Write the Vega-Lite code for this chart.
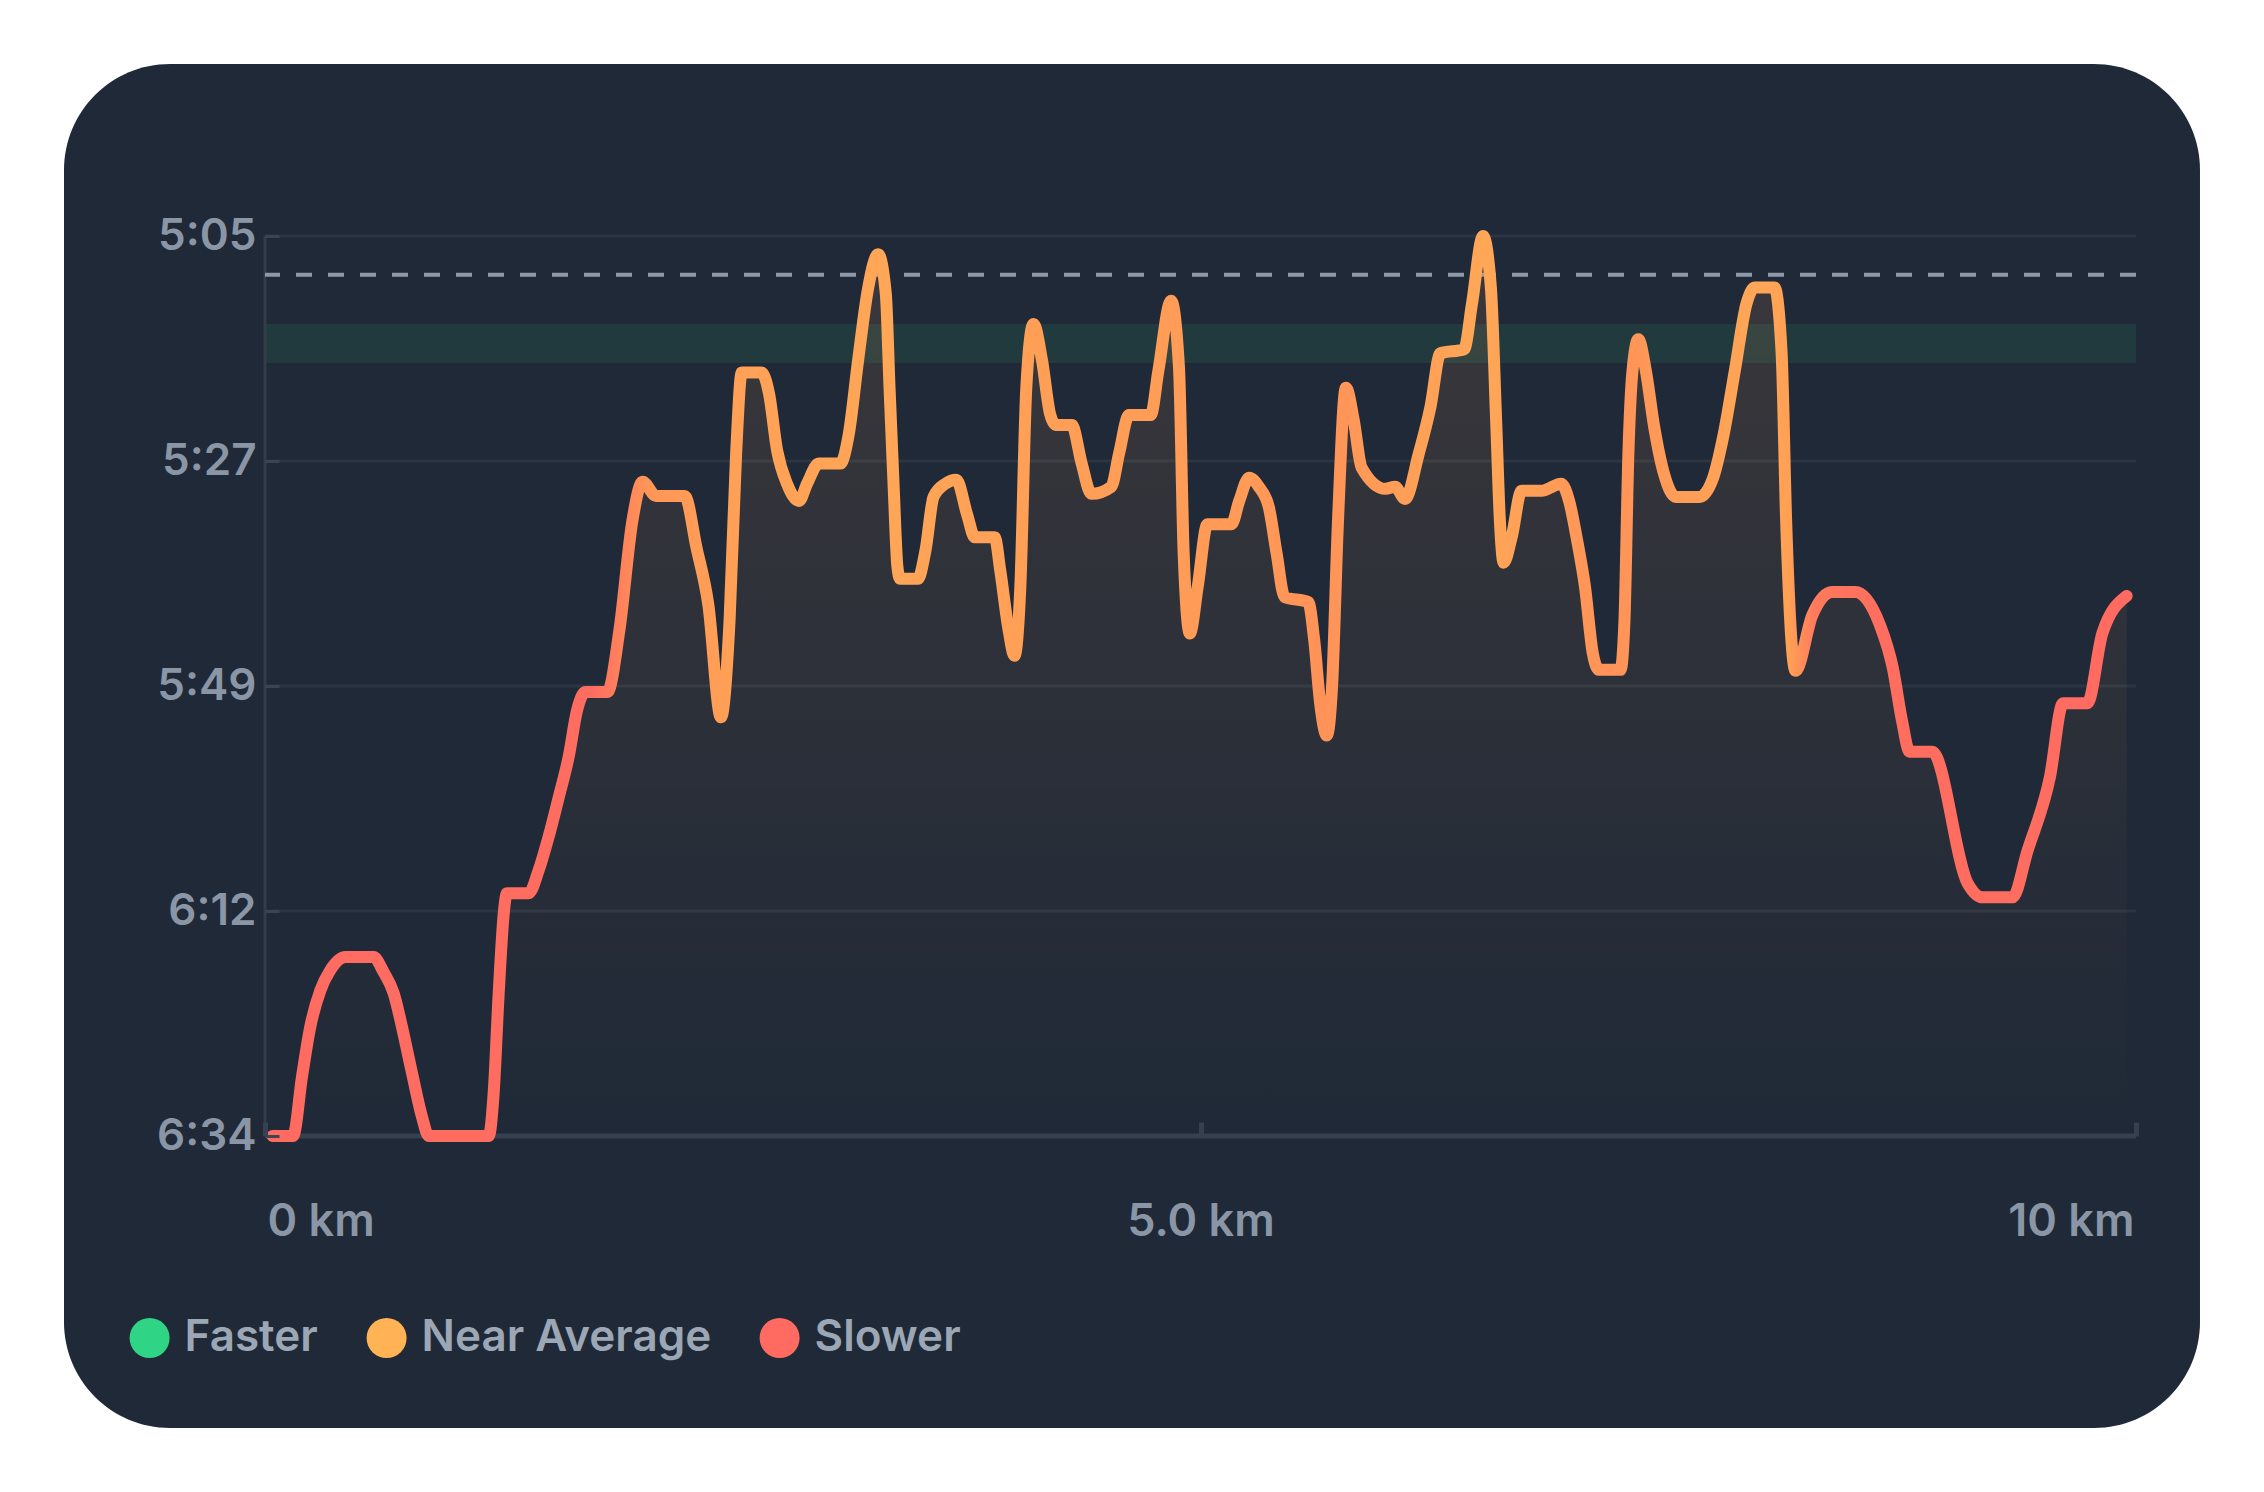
{
  "$schema": "https://vega.github.io/schema/vega-lite/v6.json",
  "width": 1871,
  "height": 900,
  "autosize": {"type": "none"},
  "padding": {"left": 265, "top": 236, "right": 128, "bottom": 356},
  "background": "#ffffff",
  "datasets": {
    "pace": [
      {"km": 0.04, "pace": 394}, {"km": 0.15, "pace": 394}, {"km": 0.198, "pace": 388.1},
      {"km": 0.242, "pace": 383.2}, {"km": 0.296, "pace": 379.6}, {"km": 0.349, "pace": 377.6},
      {"km": 0.43, "pace": 376.3}, {"km": 0.58, "pace": 376.3}, {"km": 0.634, "pace": 377.8},
      {"km": 0.688, "pace": 379.9}, {"km": 0.732, "pace": 383.2}, {"km": 0.786, "pace": 387.8},
      {"km": 0.839, "pace": 392.1}, {"km": 0.875, "pace": 394}, {"km": 1.196, "pace": 394},
      {"km": 1.222, "pace": 389.8}, {"km": 1.249, "pace": 379.9}, {"km": 1.276, "pace": 372},
      {"km": 1.293, "pace": 370}, {"km": 1.409, "pace": 370}, {"km": 1.463, "pace": 367.7},
      {"km": 1.516, "pace": 364.4}, {"km": 1.57, "pace": 360.5}, {"km": 1.623, "pace": 356.5},
      {"km": 1.668, "pace": 351.9}, {"km": 1.712, "pace": 350.1}, {"km": 1.83, "pace": 350.1},
      {"km": 1.894, "pace": 344.0}, {"km": 1.964, "pace": 333.1}, {"km": 2.018, "pace": 329.3},
      {"km": 2.09, "pace": 330.7}, {"km": 2.243, "pace": 330.7}, {"km": 2.306, "pace": 335.8},
      {"km": 2.369, "pace": 341.4}, {"km": 2.437, "pace": 352.6}, {"km": 2.483, "pace": 343},
      {"km": 2.518, "pace": 326.5}, {"km": 2.548, "pace": 318.5}, {"km": 2.654, "pace": 318.5},
      {"km": 2.694, "pace": 320.6}, {"km": 2.737, "pace": 326.2}, {"km": 2.79, "pace": 329.5},
      {"km": 2.854, "pace": 331.2}, {"km": 2.897, "pace": 329.5}, {"km": 2.96, "pace": 327.5},
      {"km": 3.075, "pace": 327.5}, {"km": 3.12, "pace": 324.6}, {"km": 3.17, "pace": 317.3},
      {"km": 3.224, "pace": 310.1}, {"km": 3.277, "pace": 306.8}, {"km": 3.318, "pace": 310.7},
      {"km": 3.338, "pace": 320}, {"km": 3.36, "pace": 329.8}, {"km": 3.38, "pace": 337.7},
      {"km": 3.394, "pace": 338.9}, {"km": 3.489, "pace": 338.9}, {"km": 3.53, "pace": 336.1},
      {"km": 3.573, "pace": 330.8}, {"km": 3.636, "pace": 329.5}, {"km": 3.695, "pace": 329.1},
      {"km": 3.752, "pace": 332.5}, {"km": 3.794, "pace": 334.8}, {"km": 3.9, "pace": 334.8},
      {"km": 3.93, "pace": 338.1}, {"km": 3.972, "pace": 343.7}, {"km": 4.006, "pace": 346.5},
      {"km": 4.037, "pace": 339.7}, {"km": 4.069, "pace": 320}, {"km": 4.107, "pace": 313.7},
      {"km": 4.153, "pace": 317.3}, {"km": 4.196, "pace": 322.6}, {"km": 4.228, "pace": 323.7},
      {"km": 4.312, "pace": 323.7}, {"km": 4.365, "pace": 327.5}, {"km": 4.417, "pace": 330.5},
      {"km": 4.523, "pace": 329.8}, {"km": 4.565, "pace": 326.5}, {"km": 4.618, "pace": 322.7},
      {"km": 4.734, "pace": 322.7}, {"km": 4.775, "pace": 318.3}, {"km": 4.843, "pace": 311.4},
      {"km": 4.885, "pace": 318}, {"km": 4.91, "pace": 336.4}, {"km": 4.943, "pace": 344.3},
      {"km": 4.985, "pace": 339.7}, {"km": 5.037, "pace": 333.5}, {"km": 5.165, "pace": 333.5},
      {"km": 5.207, "pace": 331.2}, {"km": 5.26, "pace": 328.9}, {"km": 5.312, "pace": 329.8},
      {"km": 5.365, "pace": 331.8}, {"km": 5.407, "pace": 336.4}, {"km": 5.449, "pace": 340.7},
      {"km": 5.576, "pace": 341.2}, {"km": 5.608, "pace": 345}, {"km": 5.64, "pace": 351.3},
      {"km": 5.675, "pace": 354.4}, {"km": 5.703, "pace": 349.6}, {"km": 5.735, "pace": 333.1},
      {"km": 5.777, "pace": 320}, {"km": 5.819, "pace": 323.2}, {"km": 5.861, "pace": 327.9},
      {"km": 5.988, "pace": 330}, {"km": 6.04, "pace": 329.8}, {"km": 6.093, "pace": 331},
      {"km": 6.167, "pace": 326.5}, {"km": 6.229, "pace": 321.9}, {"km": 6.282, "pace": 316.6},
      {"km": 6.409, "pace": 316.2}, {"km": 6.451, "pace": 311.7}, {"km": 6.51, "pace": 305},
      {"km": 6.552, "pace": 310.1}, {"km": 6.58, "pace": 323.2}, {"km": 6.6, "pace": 333.1},
      {"km": 6.62, "pace": 337.3}, {"km": 6.663, "pace": 334.8}, {"km": 6.716, "pace": 330.2},
      {"km": 6.822, "pace": 330.2}, {"km": 6.928, "pace": 329.5}, {"km": 6.97, "pace": 331.2},
      {"km": 7.013, "pace": 335.1}, {"km": 7.055, "pace": 339.7}, {"km": 7.097, "pace": 346.3},
      {"km": 7.13, "pace": 347.9}, {"km": 7.245, "pace": 347.9}, {"km": 7.266, "pace": 343},
      {"km": 7.287, "pace": 326.5}, {"km": 7.309, "pace": 318.3}, {"km": 7.34, "pace": 315.2},
      {"km": 7.38, "pace": 318.3}, {"km": 7.425, "pace": 323.9}, {"km": 7.477, "pace": 328.5},
      {"km": 7.54, "pace": 330.8}, {"km": 7.667, "pace": 330.8}, {"km": 7.74, "pace": 328.9},
      {"km": 7.793, "pace": 324.9}, {"km": 7.856, "pace": 318.3}, {"km": 7.918, "pace": 311.7},
      {"km": 7.962, "pace": 310.1}, {"km": 8.068, "pace": 310.1}, {"km": 8.106, "pace": 316.6},
      {"km": 8.13, "pace": 333.1}, {"km": 8.18, "pace": 348}, {"km": 8.27, "pace": 342.5},
      {"km": 8.375, "pace": 340.2}, {"km": 8.5, "pace": 340.2}, {"km": 8.63, "pace": 343.4},
      {"km": 8.7, "pace": 347.7}, {"km": 8.75, "pace": 353}, {"km": 8.79, "pace": 356},
      {"km": 8.91, "pace": 356}, {"km": 9.1, "pace": 369.0}, {"km": 9.18, "pace": 370.4},
      {"km": 9.34, "pace": 370.4}, {"km": 9.42, "pace": 365.8}, {"km": 9.54, "pace": 358.5},
      {"km": 9.61, "pace": 351.2}, {"km": 9.74, "pace": 351.2}, {"km": 9.82, "pace": 344.3},
      {"km": 9.95, "pace": 340.6}
    ],
    "zones": [
      {"zone": "Faster"}, {"zone": "Near Average"}, {"zone": "Slower"}
    ]
  },
  "layer": [
    {
      "data": {"values": [{"x1": -1.0743, "x2": 10.342, "y1": 288.0, "y2": 422.88}]},
      "mark": {"type": "rect", "color": "#1f2937", "cornerRadius": 106},
      "encoding": {
        "x": {"field": "x1", "type": "quantitative", "title": null, "scale": {"domain": [0, 10], "nice": false, "zero": false}},
        "x2": {"field": "x2"},
        "y": {"field": "y1", "type": "quantitative", "title": null, "scale": {"domain": [305, 394], "reverse": true, "nice": false, "zero": false}},
        "y2": {"field": "y2"}
      }
    },
    {
      "data": {"values": [{"start": 0, "end": 10, "lo": 313.7, "hi": 317.55}]},
      "mark": {"type": "rect", "color": "#2ed47f", "opacity": 0.1},
      "encoding": {
        "x": {"field": "start", "type": "quantitative", "title": null},
        "x2": {"field": "end"},
        "y": {"field": "lo", "type": "quantitative", "title": null},
        "y2": {"field": "hi"}
      }
    },
    {
      "data": {"values": [{"pace": 305}, {"pace": 327.25}, {"pace": 349.5}, {"pace": 371.75}]},
      "mark": {"type": "rule", "color": "#2c3642", "strokeWidth": 3},
      "encoding": {"y": {"field": "pace", "type": "quantitative", "title": null}}
    },
    {
      "data": {"values": [{"km": 0}]},
      "mark": {"type": "rule", "color": "#323d4a", "strokeWidth": 3},
      "encoding": {"x": {"field": "km", "type": "quantitative", "title": null}}
    },
    {
      "data": {"values": [{"pace": 394}]},
      "mark": {"type": "rule", "color": "#354150", "strokeWidth": 5},
      "encoding": {"y": {"field": "pace", "type": "quantitative", "title": null}}
    },
    {
      "data": {"values": [{"pace": 308.83}]},
      "mark": {"type": "rule", "color": "#8d99a8", "strokeWidth": 4, "strokeDash": [16, 16]},
      "encoding": {"y": {"field": "pace", "type": "quantitative", "title": null}}
    },
    {
      "data": {"name": "pace"},
      "mark": {
        "type": "area",
        "interpolate": "monotone",
        "color": {
          "gradient": "linear", "x1": 0, "y1": 0, "x2": 0, "y2": 1,
          "stops": [
            {"offset": 0, "color": "rgba(255,160,87,0.12)"},
            {"offset": 1, "color": "rgba(255,160,87,0)"}
          ]
        }
      },
      "encoding": {
        "x": {"field": "km", "type": "quantitative", "title": null},
        "y": {"field": "pace", "type": "quantitative", "title": null},
        "y2": {"datum": 394}
      }
    },
    {
      "data": {"name": "pace"},
      "mark": {
        "type": "line",
        "interpolate": "monotone",
        "strokeWidth": 12,
        "strokeCap": "round",
        "strokeJoin": "round",
        "color": {
          "gradient": "linear", "x1": 0, "y1": 0, "x2": 1, "y2": 0,
          "stops": [
            {"offset": 0, "color": "#ff6b61"},
            {"offset": 0.1726, "color": "#ff6d60"},
            {"offset": 0.2028, "color": "#ff9657"},
            {"offset": 0.248, "color": "#ffa056"},
            {"offset": 0.329, "color": "#ffa657"},
            {"offset": 0.4, "color": "#ffa056"},
            {"offset": 0.527, "color": "#ff9a57"},
            {"offset": 0.566, "color": "#ff9258"},
            {"offset": 0.598, "color": "#ff9c57"},
            {"offset": 0.652, "color": "#ffa757"},
            {"offset": 0.722, "color": "#ff9258"},
            {"offset": 0.763, "color": "#ff9e57"},
            {"offset": 0.803, "color": "#ffa757"},
            {"offset": 0.818, "color": "#ffa055"},
            {"offset": 0.832, "color": "#ff7a5d"},
            {"offset": 0.864, "color": "#ff6e5f"},
            {"offset": 1, "color": "#ff6b61"}
          ]
        }
      },
      "encoding": {
        "x": {
          "field": "km", "type": "quantitative", "title": null,
          "scale": {"domain": [0, 10], "nice": false, "zero": false},
          "axis": {
            "title": null, "values": [0, 5, 10], "grid": false, "domain": false,
            "tickSize": -14, "tickWidth": 5, "tickColor": "#354150",
            "labelPadding": 77, "labelFlush": true, "labelFlushOffset": -2,
            "labelExpr": "datum.value == 5 ? '5.0 km' : datum.value + ' km'",
            "labelFont": "Inter", "labelFontSize": 45, "labelFontWeight": 600, "labelColor": "#8a96a6",
            "zindex": 1
          }
        },
        "y": {
          "field": "pace", "type": "quantitative", "title": null,
          "scale": {"domain": [305, 394], "reverse": true, "nice": false, "zero": false},
          "axis": {
            "title": null, "values": [305, 327.25, 349.5, 371.75, 394], "grid": false, "domain": false,
            "tickSize": -14, "tickWidth": 3, "tickColor": "#3a4552",
            "labelPadding": 23, "labelBaseline": "middle",
            "labelExpr": "floor(datum.value / 60) + ':' + (floor(datum.value % 60 + 0.25) < 10 ? '0' : '') + floor(datum.value % 60 + 0.25)",
            "labelFont": "Inter", "labelFontSize": 44, "labelFontWeight": 600, "labelColor": "#8a96a6",
            "zindex": 1
          }
        }
      }
    },
    {
      "data": {"name": "zones"},
      "mark": {"type": "circle", "opacity": 0},
      "encoding": {
        "color": {
          "field": "zone", "type": "nominal",
          "scale": {"domain": ["Faster", "Near Average", "Slower"], "range": ["#2fd584", "#ffb354", "#ff6b61"]},
          "legend": {
            "title": null, "orient": "none", "direction": "horizontal",
            "legendX": -137.4, "legendY": 1080, "padding": 0,
            "symbolType": "circle", "symbolSize": 1600, "symbolOpacity": 1, "symbolStrokeWidth": 0,
            "labelOffset": 13, "columnPadding": 46,
            "labelFont": "Inter", "labelFontSize": 44, "labelFontWeight": 600, "labelColor": "#9ca7b5",
            "labelLimit": 0
          }
        }
      }
    }
  ],
  "config": {
    "view": {"stroke": null}
  }
}
